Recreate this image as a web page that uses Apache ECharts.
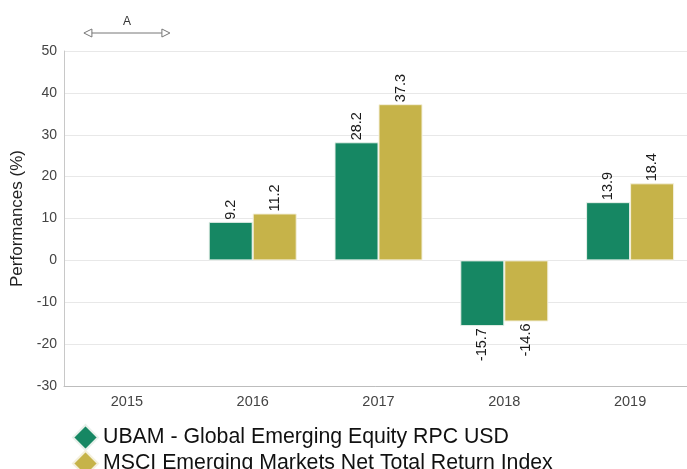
<!DOCTYPE html>
<html>
<head>
<meta charset="utf-8">
<script src="https://cdn.jsdelivr.net/npm/echarts@6/dist/echarts.min.js"></script>
<style>
html,body{margin:0;padding:0;background:#fff;}
#chart{width:687px;height:469px;}
</style>
</head>
<body>
<div id="chart"></div>
<script>
var categories = ['2015', '2016', '2017', '2018', '2019'];
var fundName = 'UBAM - Global Emerging Equity RPC USD';
var indexName = 'MSCI Emerging Markets Net Total Return Index';
var fundValues = [null, 9.2, 28.2, -15.7, 13.9];
var indexValues = [null, 11.2, 37.3, -14.6, 18.4];
var annotationCategory = '2015';
var annotationText = 'A';

var FONT = 'Liberation Sans, Arial, sans-serif';

function toData(arr) {
  return arr.map(function (v) {
    if (v === null) return null;
    if (v < 0) {
      return { value: v, label: { position: 'bottom', align: 'right' } };
    }
    return { value: v };
  });
}

var labelCfg = {
  show: true,
  position: 'top',
  rotate: 90,
  align: 'left',
  verticalAlign: 'middle',
  distance: 2,
  fontFamily: FONT,
  fontSize: 14.5,
  color: '#1a1a1a',
  formatter: function (p) { return p.value.toFixed(1); }
};

var chart = echarts.init(document.getElementById('chart'), null, { renderer: 'canvas' });
var option = {
  animation: false,
  backgroundColor: '#fff',
  grid: { left: 64, top: 51, width: 629, height: 335, containLabel: false, outerBoundsMode: 'none' },
  legend: {
    orient: 'vertical',
    left: 72,
    top: 424,
    height: 120,
    icon: 'diamond',
    itemWidth: 25,
    itemHeight: 25,
    itemGap: -1,
    padding: 0,
    textStyle: { fontFamily: FONT, fontSize: 21.3, color: '#111' },
    data: [fundName, indexName]
  },
  xAxis: {
    type: 'category',
    data: categories,
    axisLine: { show: true, onZero: false, lineStyle: { color: '#bdbdbd', width: 1 } },
    axisTick: { show: false },
    axisLabel: { fontFamily: FONT, fontSize: 14.5, color: '#444', margin: 8 },
    splitLine: { show: false }
  },
  yAxis: {
    type: 'value',
    min: -30,
    max: 50,
    interval: 10,
    name: 'Performances (%)',
    nameLocation: 'middle',
    nameGap: 38,
    nameTextStyle: { fontFamily: FONT, fontSize: 17, color: '#222' },
    axisLine: { show: true, lineStyle: { color: '#c8c8c8', width: 1 } },
    axisTick: { show: false },
    axisLabel: { fontFamily: FONT, fontSize: 14, color: '#444', margin: 7 },
    splitLine: { show: true, lineStyle: { color: '#e8e8e8', width: 1 } }
  },
  series: [
    {
      name: fundName,
      type: 'bar',
      data: toData(fundValues),
      barWidth: 44,
      barGap: '0%',
      itemStyle: { color: '#168763', borderColor: '#e8f0ea', borderWidth: 1 },
      label: labelCfg
    },
    {
      name: indexName,
      type: 'bar',
      data: toData(indexValues),
      barWidth: 44,
      barGap: '0%',
      itemStyle: { color: '#c6b349', borderColor: '#f4f0dc', borderWidth: 1 },
      label: labelCfg
    }
  ]
};
chart.setOption(option);

// Annotation bracket above the first category, placed through the axis scale
var c = chart.convertToPixel({ xAxisIndex: 0 }, annotationCategory);
var half = 43;
var yLine = 33;
var g = '#777';
chart.setOption({
  graphic: [
    { type: 'line', shape: { x1: c - half + 6, y1: yLine, x2: c + half - 6, y2: yLine }, style: { stroke: g, lineWidth: 1 } },
    { type: 'polygon', shape: { points: [[c - half, yLine], [c - half + 8, yLine - 4], [c - half + 8, yLine + 4]] }, style: { fill: '#fff', stroke: g, lineWidth: 1 } },
    { type: 'polygon', shape: { points: [[c + half, yLine], [c + half - 8, yLine - 4], [c + half - 8, yLine + 4]] }, style: { fill: '#fff', stroke: g, lineWidth: 1 } },
    { type: 'text', x: c, y: 22, style: { text: annotationText, fontFamily: FONT, fontSize: 12, fill: '#333', align: 'center', verticalAlign: 'middle' } }
  ]
});
</script>
</body>
</html>
